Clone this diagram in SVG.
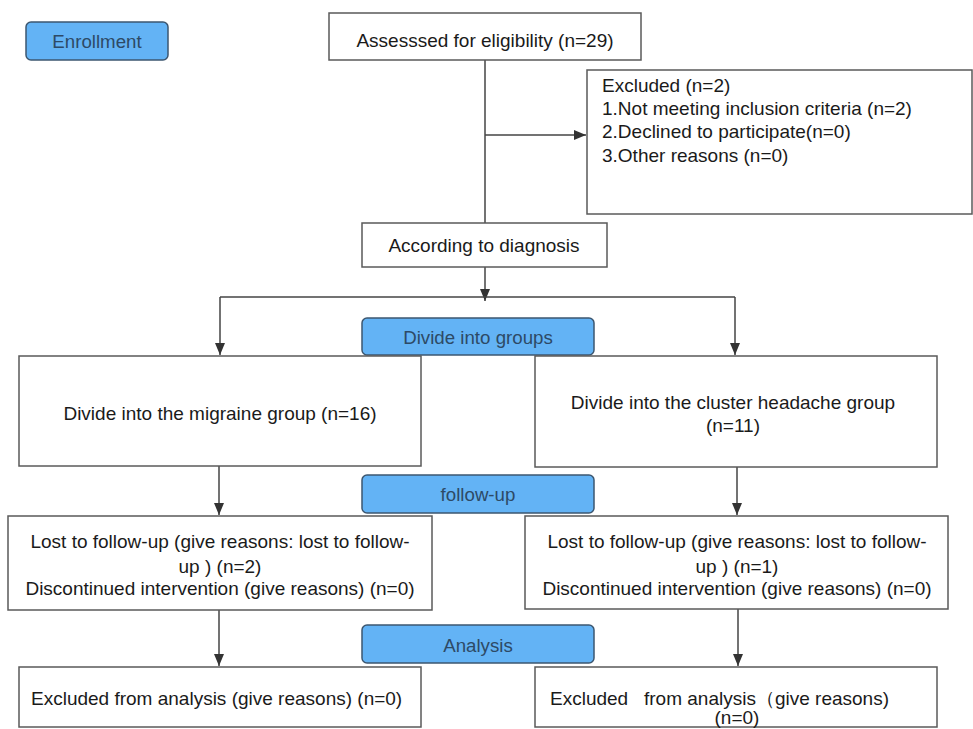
<svg xmlns="http://www.w3.org/2000/svg" width="973" height="729" viewBox="0 0 973 729">
<style>
.box{fill:#fff;stroke:#5a5a5a;stroke-width:1.5}
.lbl{fill:#63b3f5;stroke:#3d5770;stroke-width:1.5}
.t{font-family:"Liberation Sans",Arial,sans-serif;font-size:19px;fill:#1a1a1a}
.lt{font-family:"Liberation Sans",Arial,sans-serif;font-size:18.7px;fill:#2d4a66}
.c{text-anchor:middle}
.ln{fill:none;stroke:#444;stroke-width:1.5}
</style>
<defs>
<marker id="ah" viewBox="0 0 12 10" refX="12" refY="5" markerWidth="12" markerHeight="10" markerUnits="userSpaceOnUse" orient="auto">
<path d="M0,0 L12,5 L0,10 Z" fill="#333"/>
</marker>
</defs>
<rect width="973" height="729" fill="#fff"/>
<g id="connectors">
<path class="ln" d="M485,60 V223"/>
<path class="ln" d="M485,135 H586" marker-end="url(#ah)"/>
<path class="ln" d="M485,267 V301" marker-end="url(#ah)"/>
<path class="ln" d="M220,297 H735"/>
<path class="ln" d="M220,297 V355" marker-end="url(#ah)"/>
<path class="ln" d="M735,297 V355" marker-end="url(#ah)"/>
<path class="ln" d="M219,466 V515" marker-end="url(#ah)"/>
<path class="ln" d="M737,467 V515" marker-end="url(#ah)"/>
<path class="ln" d="M219,610 V666" marker-end="url(#ah)"/>
<path class="ln" d="M738,609 V666" marker-end="url(#ah)"/>
</g>
<g id="enrollment">
<rect class="lbl" x="26" y="22" width="142" height="38" rx="5"/>
<text class="lt c" x="97" y="48">Enrollment</text>
</g>
<g id="assessed">
<rect class="box" x="329" y="13" width="312" height="47"/>
<text class="t c" x="485" y="47">Assesssed for eligibility (n=29)</text>
</g>
<g id="excluded">
<rect class="box" x="587" y="70" width="385" height="144"/>
<text class="t" x="602" y="92">Excluded (n=2)</text>
<text class="t" x="602" y="115">1.Not meeting inclusion criteria (n=2)</text>
<text class="t" x="602" y="138">2.Declined to participate(n=0)</text>
<text class="t" x="602" y="162">3.Other reasons (n=0)</text>
</g>
<g id="diagnosis">
<rect class="box" x="362" y="223" width="245" height="44"/>
<text class="t c" x="484" y="252">According to diagnosis</text>
</g>
<g id="divide">
<rect class="lbl" x="362" y="318" width="232" height="37" rx="5"/>
<text class="lt c" x="478" y="344">Divide into groups</text>
</g>
<g id="migraine">
<rect class="box" x="19" y="356" width="402" height="110"/>
<text class="t c" x="220" y="420">Divide into the migraine group (n=16)</text>
</g>
<g id="cluster">
<rect class="box" x="535" y="356" width="402" height="111"/>
<text class="t c" x="733" y="409">Divide into the cluster headache group</text>
<text class="t c" x="733" y="432">(n=11)</text>
</g>
<g id="followup">
<rect class="lbl" x="362" y="475" width="232" height="38" rx="5"/>
<text class="lt c" x="478" y="501">follow-up</text>
</g>
<g id="lost-left">
<rect class="box" x="8" y="516" width="424" height="94"/>
<text class="t c" x="220" y="548">Lost to follow-up (give reasons: lost to follow-</text>
<text class="t c" x="220" y="573">up ) (n=2)</text>
<text class="t c" x="220" y="595">Discontinued intervention (give reasons) (n=0)</text>
</g>
<g id="lost-right">
<rect class="box" x="525" y="516" width="423" height="93"/>
<text class="t c" x="737" y="548">Lost to follow-up (give reasons: lost to follow-</text>
<text class="t c" x="737" y="573">up ) (n=1)</text>
<text class="t c" x="737" y="595">Discontinued intervention (give reasons) (n=0)</text>
</g>
<g id="analysis">
<rect class="lbl" x="362" y="625" width="232" height="38" rx="5"/>
<text class="lt c" x="478" y="652">Analysis</text>
</g>
<g id="excl-left">
<rect class="box" x="19" y="667" width="402" height="60"/>
<text class="t" x="31" y="705">Excluded from analysis (give reasons) (n=0)</text>
</g>
<g id="excl-right">
<rect class="box" x="535" y="667" width="402" height="60"/>
<text class="t" x="550" y="705" xml:space="preserve">Excluded   from analysis（give reasons)</text>
<text class="t c" x="737" y="724">(n=0)</text>
</g>
</svg>
